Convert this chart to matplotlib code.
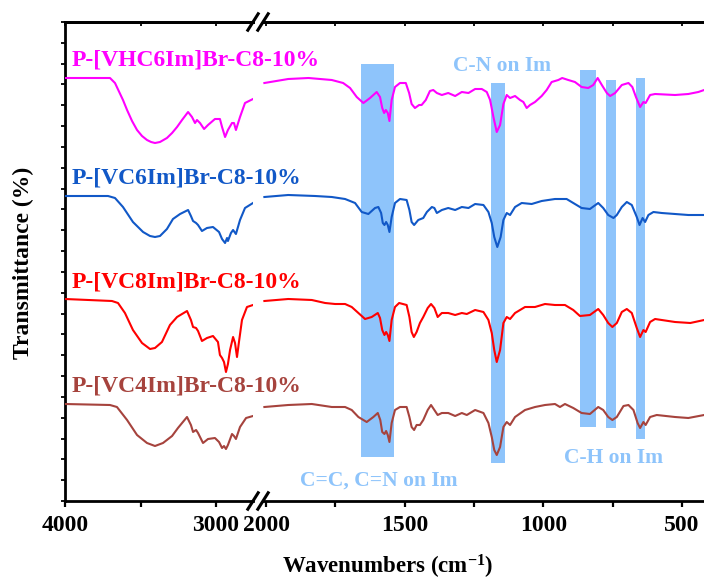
import matplotlib
matplotlib.use("Agg")
import matplotlib.pyplot as plt
from matplotlib.ticker import MultipleLocator, FixedLocator, NullFormatter

plt.rcParams['font.family'] = ['Liberation Serif', 'DejaVu Serif']
plt.rcParams['font.weight'] = 'bold'
plt.rcParams['mathtext.fontset'] = 'custom'
plt.rcParams['mathtext.rm'] = 'Liberation Serif:bold'
plt.rcParams['mathtext.bf'] = 'Liberation Serif:bold'
plt.rcParams['mathtext.it'] = 'Liberation Serif:bold:italic'

# ---------------- data ----------------
series_names = ["P-[VHC6Im]Br-C8-10%", "P-[VC6Im]Br-C8-10%",
                "P-[VC8Im]Br-C8-10%", "P-[VC4Im]Br-C8-10%"]
series_colors = ["#FF00FF", "#1158C7", "#FF0000", "#A6433D"]

# high-wavenumber window (4000-2755 cm-1), stacked transmittance (a.u.)
vhc6_hi_wn = [4000, 3702, 3669, 3616, 3589, 3556, 3523, 3490, 3457, 3430, 3404, 3371, 3325, 3291, 3258, 3225, 3185,
              3159, 3139, 3126, 3106, 3079, 3053, 3007, 2974, 2960, 2940, 2921, 2894, 2881, 2868, 2841, 2808, 2755]
vhc6_hi_t = [423, 423, 418, 401, 391, 380, 371, 365, 361, 359, 358, 359, 363, 368, 374, 381, 389,
             384, 378, 381, 378, 372, 376, 382, 382, 374, 364, 371, 378, 378, 371, 384, 398, 402]

vc6_hi_wn = [4000, 3715, 3669, 3616, 3550, 3483, 3437, 3404, 3371, 3325, 3285, 3238, 3185, 3166, 3152, 3132,
             3119, 3093, 3060, 3020, 2980, 2960, 2940, 2927, 2921, 2901, 2887, 2868, 2841, 2808, 2755]
vc6_hi_t = [305, 305, 303, 294, 279, 269, 265, 264, 265, 272, 282, 287, 291, 285, 280, 278,
            276, 270, 273, 274, 269, 262, 258, 263, 260, 268, 271, 267, 281, 293, 298]

vc8_hi_wn = [4000, 3689, 3649, 3603, 3550, 3490, 3437, 3404, 3358, 3305, 3258, 3192, 3166, 3152, 3132, 3119, 3093,
             3060, 3020, 2987, 2974, 2960, 2947, 2934, 2921, 2907, 2887, 2874, 2861, 2848, 2828, 2795, 2755]
vc8_hi_t = [202, 200, 198, 188, 171, 158, 152, 153, 159, 176, 184, 190, 181, 174, 173, 170, 160,
            163, 165, 159, 146, 143, 139, 129, 137, 151, 164, 158, 144, 159, 181, 194, 196]

vc4_hi_wn = [4000, 3702, 3656, 3589, 3523, 3457, 3404, 3351, 3291, 3252, 3192, 3166, 3152, 3132, 3119,
             3086, 3053, 3007, 2980, 2960, 2947, 2934, 2921, 2894, 2881, 2868, 2841, 2801, 2755]
vc4_hi_t = [97, 96, 94, 81, 66, 58, 55, 58, 65, 73, 84, 76, 69, 71, 68,
            58, 62, 63, 59, 53, 55, 52, 56, 67, 65, 62, 74, 83, 85]

# fingerprint window (2006-420 cm-1)
vhc6_lo_wn = [2006, 1920, 1847, 1763, 1722, 1697, 1673, 1649, 1625, 1601, 1589, 1581, 1574, 1568, 1561, 1555,
              1547, 1535, 1517, 1496, 1484, 1475, 1463, 1448, 1439, 1424, 1409, 1397, 1384, 1366, 1343, 1318,
              1294, 1270, 1246, 1222, 1204, 1192, 1180, 1168, 1156, 1144, 1132, 1120, 1102, 1084, 1072, 1060,
              1048, 1030, 1006, 988, 970, 946, 932, 910, 886, 862, 838, 820, 804, 789, 771, 759, 741, 717,
              693, 679, 666, 651, 639, 631, 615, 597, 525, 477, 441, 420]
vhc6_lo_t = [418, 422, 423, 421, 418, 413, 404, 398, 403, 409, 404, 393, 388, 391, 388, 380,
             401, 414, 418, 418, 408, 397, 393, 396, 396, 401, 410, 411, 408, 406, 408, 405,
             409, 408, 412, 412, 409, 401, 384, 369, 376, 397, 406, 403, 405, 401, 399, 393,
             396, 399, 405, 411, 419, 421, 423, 421, 419, 414, 413, 416, 423, 416, 408, 405, 408, 416,
             418, 414, 404, 394, 399, 398, 406, 407, 406, 407, 409, 411]

vc6_lo_wn = [2006, 1920, 1823, 1763, 1715, 1679, 1655, 1631, 1607, 1595, 1585, 1579, 1573, 1567, 1561, 1555,
             1547, 1535, 1517, 1493, 1483, 1475, 1466, 1451, 1433, 1420, 1402, 1393, 1384, 1366, 1343, 1318,
             1294, 1270, 1246, 1216, 1198, 1186, 1177, 1166, 1154, 1144, 1132, 1120, 1102, 1078, 1042, 1006,
             958, 916, 892, 862, 832, 802, 784, 766, 747, 735, 717, 699, 681, 663, 653, 642, 633, 621,
             603, 573, 525, 477, 420]
vc6_lo_t = [304, 306, 305, 304, 302, 298, 289, 287, 293, 294, 288, 278, 276, 279, 276, 269,
            284, 298, 302, 301, 291, 279, 276, 281, 283, 289, 294, 293, 288, 291, 293, 291,
            294, 293, 297, 296, 289, 278, 264, 254, 264, 281, 288, 286, 294, 298, 297, 300,
            302, 302, 298, 293, 292, 298, 293, 286, 283, 286, 294, 299, 296, 284, 276, 283, 279, 286,
            289, 288, 287, 286, 286]

vc8_lo_wn = [2006, 1920, 1835, 1787, 1751, 1715, 1691, 1667, 1643, 1619, 1597, 1589, 1581, 1573, 1567, 1561,
             1555, 1547, 1535, 1520, 1493, 1483, 1475, 1467, 1457, 1445, 1433, 1417, 1405, 1393, 1381, 1366,
             1343, 1318, 1294, 1276, 1246, 1216, 1198, 1186, 1177, 1168, 1156, 1144, 1132, 1120, 1102, 1066,
             1030, 994, 958, 922, 892, 868, 832, 802, 784, 766, 751, 735, 717, 699, 681, 663, 651, 639,
             631, 615, 597, 525, 470, 420]
vc8_lo_t = [200, 202, 201, 198, 197, 197, 194, 188, 182, 184, 188, 183, 171, 166, 169, 166,
            160, 181, 194, 198, 196, 184, 169, 164, 169, 178, 184, 193, 197, 193, 184, 188,
            188, 186, 188, 187, 191, 189, 181, 168, 151, 139, 151, 178, 184, 182, 188, 194,
            194, 197, 196, 196, 191, 185, 186, 192, 186, 178, 174, 178, 189, 192, 188, 173, 164, 171,
            169, 179, 182, 179, 178, 181]

vc4_lo_wn = [2006, 1920, 1835, 1763, 1715, 1691, 1667, 1637, 1613, 1597, 1588, 1581, 1573, 1567, 1561, 1555,
             1547, 1535, 1517, 1493, 1483, 1475, 1466, 1457, 1445, 1433, 1417, 1405, 1393, 1381, 1366, 1343,
             1318, 1294, 1276, 1246, 1216, 1198, 1186, 1177, 1168, 1156, 1144, 1132, 1120, 1102, 1066, 1030,
             994, 958, 940, 922, 892, 862, 832, 802, 784, 766, 751, 735, 711, 693, 675, 660, 651, 639,
             631, 615, 591, 525, 477, 420]
vc4_lo_t = [94, 96, 97, 94, 94, 91, 84, 79, 84, 88, 81, 69, 67, 70, 66, 59,
            78, 91, 94, 94, 84, 74, 71, 76, 76, 81, 91, 96, 91, 86, 88, 88,
            85, 88, 86, 91, 88, 78, 64, 51, 46, 54, 74, 79, 76, 84, 91, 94,
            96, 97, 94, 97, 93, 88, 87, 94, 91, 84, 81, 84, 95, 96, 91, 78, 73, 79,
            76, 84, 86, 84, 83, 86]

hi_wn = [vhc6_hi_wn, vc6_hi_wn, vc8_hi_wn, vc4_hi_wn]
hi_t = [vhc6_hi_t, vc6_hi_t, vc8_hi_t, vc4_hi_t]
lo_wn = [vhc6_lo_wn, vc6_lo_wn, vc8_lo_wn, vc4_lo_wn]
lo_t = [vhc6_lo_t, vc6_lo_t, vc8_lo_t, vc4_lo_t]

# highlighted imidazole bands (cm-1) and their vertical extent
band_lo = [1537, 1139, 810, 739, 634]
band_hi = [1657, 1189, 868, 775, 665]
band_top = [437, 418, 431, 421, 423]
band_bottom = [44, 38, 74, 73, 62]
band_labels = ["C=C, C=N on Im", "C-N on Im", "C-H on Im"]

# ---------------- figure ----------------
W, H = 704, 582
fig = plt.figure(figsize=(W / 100, H / 100), dpi=100)

def fx(px):
    return px / W

def fy(py):
    return 1 - py / H

top_px, bot_px = 22, 501
ax_hi = fig.add_axes([fx(65), fy(bot_px), (253 - 65) / W, (bot_px - top_px) / H])
ax_lo = fig.add_axes([fx(263), fy(bot_px), (709.7 - 263) / W, (bot_px - top_px) / H])

band_color = "#8EC4FB"
for lo, hi, tp, bt in zip(band_lo, band_hi, band_top, band_bottom):
    ax_lo.bar((lo + hi) / 2, tp - bt, width=hi - lo, bottom=bt,
              color=band_color, edgecolor="none", zorder=1)

for wn, t, c in zip(hi_wn, hi_t, series_colors):
    ax_hi.plot(wn, t, color=c, lw=1.5, zorder=3, solid_joinstyle="round")
for wn, t, c in zip(lo_wn, lo_t, series_colors):
    ax_lo.plot(wn, t, color=c, lw=1.5, zorder=3, solid_joinstyle="round")

ax_hi.set_xlim(4000, 2755)
ax_lo.set_xlim(2011, 400)
for ax in (ax_hi, ax_lo):
    ax.set_ylim(0, 479)
    ax.spines["right"].set_visible(False)
    for s in ("top", "bottom", "left"):
        ax.spines[s].set_linewidth(2.0)
    ax.tick_params(axis="x", which="both", direction="out", length=4.5, width=1.6,
                   labelsize=17, pad=5.5, top=False)
    ax.set_facecolor("none")
ax_lo.spines["left"].set_visible(False)
ax_lo.tick_params(axis="y", left=False, labelleft=False)
ax_hi.yaxis.set_major_locator(MultipleLocator(479 / 23))
ax_hi.tick_params(axis="y", direction="out", length=3, width=1.3, labelleft=False)

ax_hi.xaxis.set_major_locator(FixedLocator([4000, 3000]))
ax_hi.xaxis.set_minor_locator(FixedLocator([3500]))
ax_lo.xaxis.set_major_locator(FixedLocator([2000, 1500, 1000, 500]))
ax_lo.xaxis.set_minor_locator(FixedLocator([1750, 1250, 750]))

# small inward ticks along the top frame
for ax in (ax_hi, ax_lo):
    sec = ax.secondary_xaxis("top")
    sec.xaxis.set_major_locator(FixedLocator(list(ax.xaxis.get_majorticklocs()) +
                                             list(ax.xaxis.get_minorticklocs())))
    sec.xaxis.set_major_formatter(NullFormatter())
    sec.tick_params(direction="in", length=3, width=1.3)
    sec.spines["top"].set_linewidth(2.0)

for lab in ax_hi.get_xticklabels() + ax_lo.get_xticklabels():
    lab.set_fontweight("bold")

# axis break marks
def break_marks(ax, xa, width_px):
    dx = 6 / width_px
    dy = 9.5 / (bot_px - top_px)
    for ya in (0, 1):
        ax.plot([xa - dx, xa + dx], [ya - dy, ya + dy], transform=ax.transAxes,
                color="black", lw=2.2, clip_on=False, zorder=5,
                solid_capstyle="butt")

break_marks(ax_hi, 1, 253 - 65)
break_marks(ax_lo, 0, 709.7 - 263)

# series names
label_t = [441, 323, 219.5, 115]
for name, c, t in zip(series_names, series_colors, label_t):
    ax_hi.text(3954, t, name, color=c, fontsize=17, fontweight="bold",
               ha="left", va="center", clip_on=False, zorder=6)

# band annotations
ax_lo.text(1592, 20, band_labels[0], color=band_color, fontsize=15.5, fontweight="bold",
           ha="center", va="center", clip_on=False)
ax_lo.text(1149, 435, band_labels[1], color=band_color, fontsize=15.5, fontweight="bold",
           ha="center", va="center", clip_on=False)
ax_lo.text(747, 43, band_labels[2], color=band_color, fontsize=15.5, fontweight="bold",
           ha="center", va="center", clip_on=False)

fig.text(fx(23), fy(263), "Transmittance (%)", rotation=90, fontsize=17,
         fontweight="bold", ha="center", va="center")
fig.text(fx(388), fy(567), r"Wavenumbers (cm$^{\mathregular{-1}}$)", fontsize=16.5,
         fontweight="bold", ha="center", va="center")

fig.savefig("out.png", dpi=100)
